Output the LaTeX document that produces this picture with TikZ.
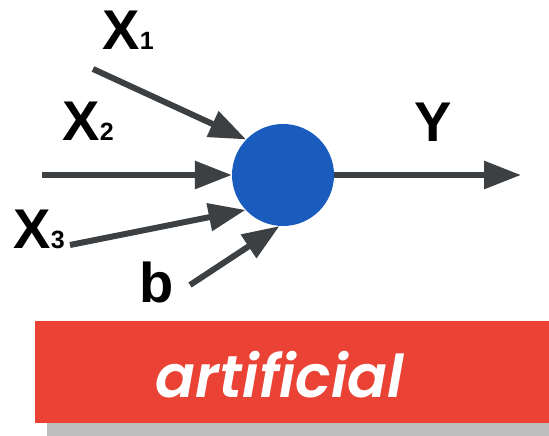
\documentclass[tikz,border=0pt]{standalone}
\usepackage{fontspec}
\setmainfont{Liberation Sans}
\newfontfamily\popmi{Poppins SemiBold Italic}
\usetikzlibrary{arrows.meta}
\definecolor{arrowgrey}{HTML}{3C4043}
\definecolor{nodeblue}{HTML}{1A5BBE}
\definecolor{barred}{HTML}{EA4335}
\definecolor{shadowgrey}{HTML}{BDBDBD}
\tikzset{
  conn/.style={draw=arrowgrey, line width=6pt, -{Triangle[length=37pt,width=27pt]}},
  lbl/.style={anchor=base west, inner sep=0pt, font=\fontsize{56}{60}\selectfont\bfseries},
  sub/.style={anchor=base west, inner sep=0pt, font=\fontsize{25}{28}\selectfont},
}
\begin{document}
\begin{tikzpicture}[x=1pt,y=-1pt]
\useasboundingbox (0,0) rectangle (549,436);
% bar
\fill[shadowgrey] (47,330) rectangle (549,436);
\node[fill=barred, minimum width=514pt, minimum height=102pt, anchor=north west, inner sep=0pt] (bar) at (35,321) {};
\node[anchor=base, inner sep=0pt, text=white, font=\popmi\fontsize{59}{64}\selectfont] (art) at (280,397) {artificial};
% neuron
\node[circle, fill=nodeblue, minimum size=102pt, inner sep=0pt] (n) at (283,175) {};
% inputs
\coordinate (s1) at (93,69);
\coordinate (s2) at (42,175);
\coordinate (s3) at (70,245);
\coordinate (sb) at (190,285);
\coordinate (ty) at (521,175);
\draw[conn] (s1) -- (n.136);
\draw[conn] (s2) -- (n.180);
\draw[conn] (s3) -- (n.223);
\draw[conn] (sb) -- (n.266);
\draw[conn] (n.east) -- (ty);
% labels
\node[lbl] (x1) at (102,50) {X};
\node[sub] (x1s) at (x1.base east) {\bfseries 1};
\node[lbl] (x2) at (62,140) {X};
\node[sub] (x2s) at (x2.base east) {\bfseries 2};
\node[lbl] (x3) at (13,248) {X};
\node[sub] (x3s) at (x3.base east) {\bfseries 3};
\node[lbl] (b) at (139,302) {b};
\node[lbl] (y) at (414,141) {Y};
\end{tikzpicture}
\end{document}
